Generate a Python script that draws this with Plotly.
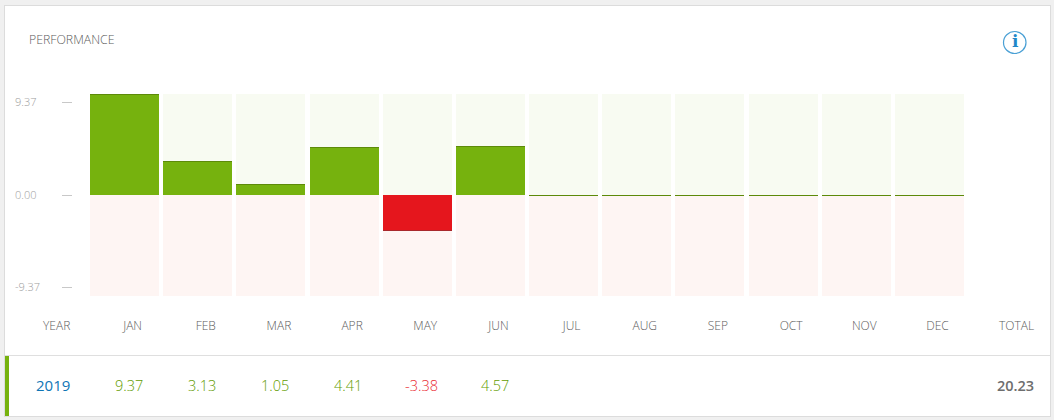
import plotly.graph_objects as go

W, H = 1054, 420
months = ["JAN", "FEB", "MAR", "APR", "MAY", "JUN", "JUL", "AUG", "SEP", "OCT", "NOV", "DEC"]
values = [9.37, 3.13, 1.05, 4.41, -3.38, 4.57, 0, 0, 0, 0, 0, 0]
table_values = ["9.37", "3.13", "1.05", "4.41", "-3.38", "4.57"]
y_ticks = [9.37, 0.00, -9.37]
year = "2019"
total = "20.23"
limit = 9.37

GREEN, RED = "#76b20e", "#e5161d"
DARKGREEN, DARKRED = "#5d8a09", "#a8282c"
FONT = "Open Sans"
GREY = "#5c5c5c"


def px(x):
    return x / W


def py(y):
    return 1 - y / H


fig = go.Figure()
fig.add_bar(x=months, y=[limit] * 12, marker_color="#f8fbf2", marker_line_width=0, width=0.943, hoverinfo="skip")
fig.add_bar(x=months, y=[-limit] * 12, marker_color="#fef5f3", marker_line_width=0, width=0.943, hoverinfo="skip")
fig.add_bar(x=months, y=values, marker_color=[GREEN if v >= 0 else RED for v in values],
            marker_line_width=0, width=0.943)
# darker 1px cap on the end of each bar (thin bars are expanded to one device pixel)
cap = 0.01
inset = 0.05
fig.add_bar(x=months, y=[cap] * 12,
            base=[v - inset if v >= 0 else v + inset for v in values],
            marker_color=[DARKGREEN if v >= 0 else DARKRED for v in values],
            marker_line_width=0, width=0.943, hoverinfo="skip")
# carrier for the independent tick-dash axis
fig.add_scatter(x=months, y=[0] * 12, yaxis="y2", mode="none", hoverinfo="skip")

shapes = []


def rect(x0, y0, x1, y1, color):
    shapes.append(dict(type="rect", xref="paper", yref="paper", layer="below",
                       x0=px(x0), x1=px(x1), y0=py(y0), y1=py(y1),
                       fillcolor=color, line_width=0))


rect(4, 5, 1051, 417, "#dcdcdc")
rect(5, 6, 1050, 416, "#ffffff")
rect(5, 355, 1050, 356, "#dfdfdf")
rect(5, 356, 9, 416, GREEN)
shapes.append(dict(type="circle", xref="paper", yref="paper",
                   x0=px(1003.5), x1=px(1026), y0=py(31.5), y1=py(53.5),
                   line=dict(color="#4aa0d5", width=1.2), fillcolor="#ffffff"))

annotations = []


def text(x, y, s, size=12, color=GREY, anchor="center", family=FONT, weight=300):
    annotations.append(dict(xref="paper", yref="paper", x=px(x), y=py(y), text=s, showarrow=False,
                            xanchor=anchor, yanchor="middle",
                            font=dict(family=family, size=size, color=color, weight=weight)))


text(27, 39, "PERFORMANCE", 12.3, anchor="left")
text(1015, 41, "i", 17, "#1f88c9", family="DejaVu Serif", weight=700)
for v in y_ticks:
    annotations.append(dict(xref="paper", yref="y2", x=px(13), y=v, text=f"{v:.2f}", showarrow=False,
                            xanchor="left", yanchor="middle", yshift=1,
                            font=dict(family=FONT, size=11, color="#a0a0a0", weight=300)))
text(56, 325, "YEAR", 12)
text(1036, 325, "TOTAL", 12, anchor="right")
text(53, 385, year, 15, "#0f75b5", weight=400)
for i, s in enumerate(table_values):
    text(129 + 73.1 * i, 385, s, 14.5, "#ea2a32" if s.startswith("-") else "#639c00")
text(1036, 385, total, 14.5, "#6e6e6e", anchor="right", weight=600)

fig.update_layout(
    width=W, height=H, autosize=False, showlegend=False, barmode="overlay", bargap=0,
    margin=dict(l=0, r=0, t=0, b=0), paper_bgcolor="#f0f0f0", plot_bgcolor="rgba(0,0,0,0)",
    shapes=shapes, annotations=annotations,
    xaxis=dict(domain=[px(88), px(966)], type="category", categoryorder="array", categoryarray=months,
               range=[-0.5, 11.5], showgrid=False, zeroline=False, showline=False, ticks="",
               ticklabelposition="outside", ticklabelshift=8, ticklabelstandoff=21,
               tickfont=dict(family=FONT, size=12, color=GREY, weight=300)),
    yaxis=dict(domain=[py(296), py(94)], range=[-limit, limit], showgrid=False, zeroline=False,
               showline=False, showticklabels=False, ticks=""),
    yaxis2=dict(domain=[py(296), py(94)], overlaying="y", anchor="free", position=px(71.5), side="left",
                range=[-10.18, 10.18], tickmode="array", tickvals=y_ticks, showticklabels=False,
                ticks="outside", ticklen=10, tickwidth=1, tickcolor="#c8c8c8",
                showgrid=False, zeroline=False, showline=False),
)
fig.write_html("out.html", config=dict(displayModeBar=False),
               post_script="document.body.style.margin='0';document.body.style.overflow='hidden';")
